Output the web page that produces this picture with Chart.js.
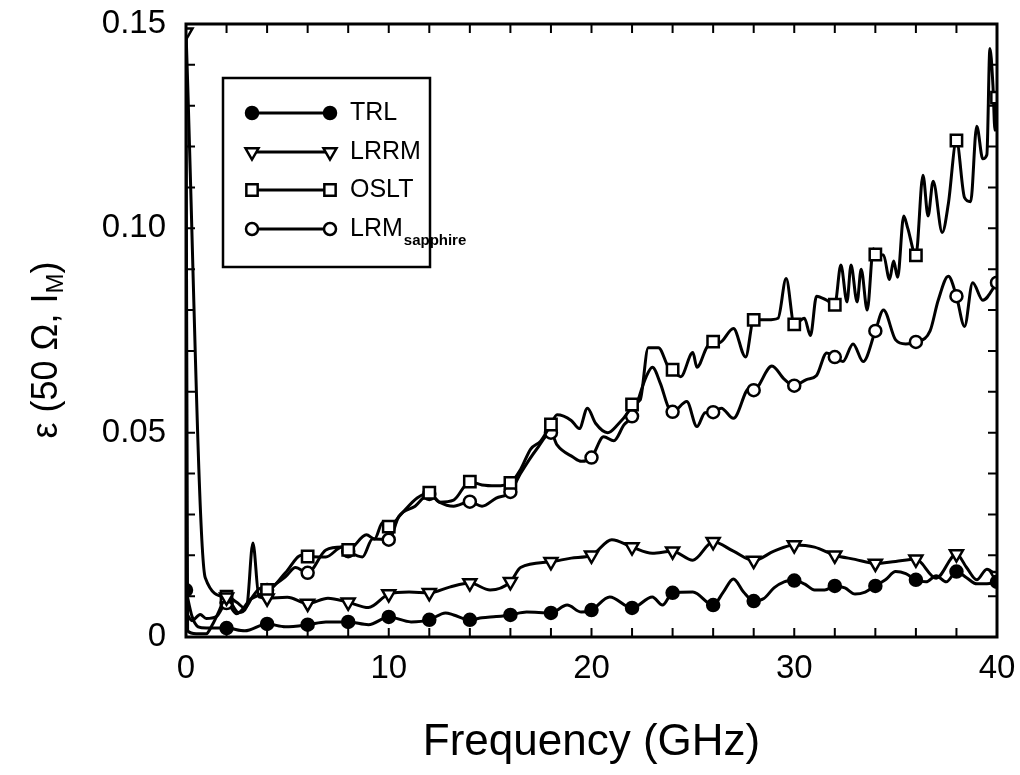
<!DOCTYPE html>
<html><head><meta charset="utf-8">
<script src="https://cdn.jsdelivr.net/npm/chart.js@4/dist/chart.umd.min.js"></script>
<style>html,body{margin:0;padding:0;background:#fff;}</style>
</head><body>
<canvas id="c" width="1020" height="775"></canvas>
<script>
// ---- data ----
const trlX = [0,0.3,0.6,1,2,2.9,4,4.9,6,6.9,8,9,10,11.1,12,12.8,13.2,14,14.6,15.3,16,16.8,18,18.8,19.5,20,20.9,22,23,23.5,24,25,26,26.5,27,27.5,28,28.5,29,29.5,30,30.5,31,31.5,32,32.5,33,33.5,34,34.5,35,35.5,36,36.5,37,37.5,38,38.5,39,39.5,40];
const trlY = [0.0115,0.005,0.0025,0.0022,0.0022,0.0015,0.0032,0.0025,0.003,0.0037,0.0037,0.003,0.0049,0.0037,0.0042,0.0059,0.0054,0.0042,0.0047,0.005,0.0054,0.0061,0.0059,0.0078,0.0061,0.0066,0.0098,0.0071,0.0098,0.0078,0.0108,0.011,0.0078,0.011,0.0142,0.011,0.0088,0.0094,0.012,0.0135,0.0138,0.013,0.0115,0.0115,0.0125,0.012,0.0105,0.011,0.0125,0.014,0.016,0.0155,0.014,0.0135,0.015,0.0135,0.016,0.0145,0.013,0.013,0.0135];

const lrrmX = [0,0.95,2,2.6,3.0,3.3,3.6,4,5,6,7,8,9,10,11,12,13,14,15,16,16.5,18,19,20,21,22,23,24,25,26,27,28,29,30,31,32,33,34,35,36,37,38,38.5,39,39.5,40];
const lrrmY = [0.148,0.0145,0.0097,0.006,0.0075,0.023,0.0098,0.0095,0.0097,0.0082,0.0095,0.0085,0.0072,0.0105,0.011,0.0108,0.0122,0.0132,0.0115,0.0135,0.017,0.0184,0.0193,0.020,0.0238,0.022,0.0205,0.021,0.0188,0.0233,0.021,0.0187,0.021,0.0225,0.022,0.020,0.019,0.018,0.0185,0.019,0.0144,0.0203,0.017,0.014,0.0166,0.015];

const osltX = [0,0.08,0.5,1.0,1.3,1.6,2,2.5,2.9,3.3,3.7,4,4.9,5.7,6,6.9,7.7,8,8.9,9.3,9.7,10,10.6,11.4,12,12.5,13.2,14,14.6,15.3,16,16.5,17,17.5,18,18.3,19,19.4,19.8,20.2,20.8,21.3,21.8,22,22.4,22.8,23.3,23.8,24,24.4,25,25.2,25.7,26,26.3,27,27.6,28,28.7,29.2,29.6,30,30.5,30.8,31.1,31.6,32,32.3,32.6,32.8,33.1,33.3,33.6,33.9,34,34.4,34.7,34.9,35.1,35.4,35.6,36,36.35,36.6,36.85,37.3,37.6,38,38.4,38.7,39,39.3,39.5,39.65,39.8,39.9,40];
const osltY = [0.147,0.0015,0.0008,0.0008,0.003,0.006,0.0099,0.0085,0.0071,0.010,0.012,0.0115,0.0157,0.020,0.0197,0.0196,0.022,0.0213,0.025,0.024,0.028,0.027,0.030,0.034,0.0353,0.033,0.0335,0.038,0.0372,0.037,0.0377,0.041,0.046,0.048,0.052,0.0544,0.053,0.051,0.056,0.0523,0.050,0.052,0.055,0.0569,0.058,0.0708,0.0708,0.066,0.0654,0.0637,0.0696,0.066,0.071,0.0723,0.072,0.0755,0.0685,0.0776,0.0776,0.078,0.0877,0.0765,0.078,0.0738,0.0834,0.0824,0.0813,0.091,0.082,0.091,0.082,0.090,0.080,0.095,0.0936,0.0935,0.0875,0.092,0.088,0.103,0.100,0.0934,0.113,0.103,0.1115,0.099,0.106,0.1215,0.1075,0.1065,0.125,0.117,0.118,0.144,0.135,0.124,0.132];

const lrmX = [0,0.3,0.7,1,1.5,2,2.5,3.2,3.7,4,4.9,5.4,6,6.9,7.7,8,8.7,9.2,10,10.5,11.3,12,12.5,13.2,14,14.6,15.3,16,16.5,17.3,18,18.3,19.1,19.5,20,20.6,21.1,21.6,22,22.7,23,23.4,23.8,24,24.7,25.2,25.6,26,26.4,27,27.8,28,28.9,29.5,30,30.6,31.1,31.6,32,32.4,32.9,33.4,34,34.4,35,35.5,36,36.7,37.1,37.6,38,38.4,38.8,39.3,40];
const lrmY = [0.006,0.004,0.0055,0.0045,0.005,0.0083,0.0057,0.0093,0.0105,0.0115,0.0147,0.017,0.0157,0.0213,0.022,0.021,0.0196,0.024,0.0238,0.0295,0.032,0.035,0.033,0.032,0.0331,0.032,0.034,0.0355,0.040,0.046,0.050,0.047,0.044,0.043,0.0439,0.049,0.048,0.0519,0.054,0.0637,0.066,0.062,0.0561,0.0551,0.0576,0.0515,0.0549,0.055,0.056,0.0535,0.061,0.0604,0.0663,0.0631,0.0615,0.063,0.064,0.0695,0.0685,0.0674,0.0717,0.0674,0.0749,0.080,0.0727,0.0717,0.0722,0.0749,0.0824,0.0883,0.0834,0.076,0.0867,0.0824,0.0867];

const seriesNames = ['TRL','LRRM','OSLT','LRM'];
const legendSub = ['','','','sapphire'];
const xTickLabels = ['0','10','20','30','40'];
const yTickLabels = ['0','0.05','0.10','0.15'];
const xTitle = 'Frequency (GHz)';
const yTitleMain = 'ε (50 Ω, I';
const yTitleSub = 'M';
const yTitleEnd = ')';

// ---- chart ----
const FONT = "'Liberation Sans', Arial, sans-serif";
function pts(xs, ys){ return xs.map((x,i)=>({x:x, y:ys[i]})); }
function markR(r, withZero){
  return c => { const x = c.raw ? c.raw.x : NaN;
    if (Number.isInteger(x) && x % 2 === 0 && (x > 0 || withZero)) return r; return 0; };
}
function ds(label, xs, ys, style, rot, fill, r, zero){
  return { label, data: pts(xs, ys), borderColor:'#000', borderWidth:3,
    pointStyle: style, pointRotation: rot, pointBackgroundColor: fill, pointBorderColor:'#000',
    pointBorderWidth: 2.5, pointRadius: markR(r, zero), pointHoverRadius: 0,
    cubicInterpolationMode:'monotone', fill:false, legR: r };
}
const datasets = [
  ds(seriesNames[0], trlX, trlY, 'circle', 0, '#000', 6, true),
  ds(seriesNames[1], lrrmX, lrrmY, 'triangle', 180, '#fff', 7.5, true),
  ds(seriesNames[2], osltX, osltY, 'rect', 0, '#fff', 8, false),
  ds(seriesNames[3], lrmX, lrmY, 'circle', 0, '#fff', 6, false)
];

const decor = {
  id:'decor',
  afterDraw(chart){
    const c = chart.ctx, a = chart.chartArea, xs = chart.scales.x, ys = chart.scales.y;
    c.save();
    c.strokeStyle = '#000'; c.lineWidth = 3;
    c.strokeRect(a.left, a.top, a.right - a.left, a.bottom - a.top);
    c.lineWidth = 2;
    c.beginPath();
    for (let v = 2; v < 40; v += 2){
      const px = xs.getPixelForValue(v);
      c.moveTo(px, a.bottom); c.lineTo(px, a.bottom - 9);
      c.moveTo(px, a.top); c.lineTo(px, a.top + 9);
    }
    for (let k = 1; k < 15; k++){
      const py = ys.getPixelForValue(k / 100);
      c.moveTo(a.left, py); c.lineTo(a.left + 9, py);
      c.moveTo(a.right, py); c.lineTo(a.right - 9, py);
    }
    c.stroke();

    // axis titles
    c.fillStyle = '#000';
    c.font = '44px ' + FONT; c.textAlign = 'center'; c.textBaseline = 'middle';
    c.fillText(xTitle, (a.left + a.right) / 2, 743);
    c.save();
    c.translate(47, 350);
    c.rotate(-Math.PI / 2);
    const fMain = '36px ' + FONT, fSub = '24px ' + FONT;
    c.font = fMain; const w1 = c.measureText(yTitleMain).width, w3 = c.measureText(yTitleEnd).width;
    c.font = fSub; const w2 = c.measureText(yTitleSub).width;
    let x0 = -(w1 + w2 + w3) / 2;
    c.textAlign = 'left';
    c.font = fMain; c.fillText(yTitleMain, x0, 0);
    c.font = fSub; c.fillText(yTitleSub, x0 + w1, 9);
    c.font = fMain; c.fillText(yTitleEnd, x0 + w1 + w2, 0);
    c.restore();

    // legend
    const L = {x:223, y:78, w:207, h:189};
    c.lineWidth = 2.5; c.strokeRect(L.x, L.y, L.w, L.h);
    const rows = [113, 152, 190, 229];
    chart.data.datasets.forEach((d, i) => {
      const y = rows[i];
      c.lineWidth = 3; c.strokeStyle = '#000';
      c.beginPath(); c.moveTo(252, y); c.lineTo(330, y); c.stroke();
      c.fillStyle = d.pointBackgroundColor; c.lineWidth = d.pointBorderWidth;
      [252, 330].forEach(px => Chart.helpers.drawPoint(c, {pointStyle:d.pointStyle, rotation:d.pointRotation, radius:d.legR, borderWidth:d.pointBorderWidth}, px, y));
      c.fillStyle = '#000'; c.textAlign = 'left'; c.textBaseline = 'middle';
      c.font = '25px ' + FONT; c.fillText(d.label, 350, y);
      if (legendSub[i]) {
        const w = c.measureText(d.label).width;
        c.font = 'bold 15px ' + FONT; c.fillText(legendSub[i], 350 + w + 1, y + 12);
      }
    });
    c.restore();
  }
};

new Chart(document.getElementById('c').getContext('2d'), {
  type: 'line',
  data: { datasets },
  options: {
    responsive: false, animation: false, devicePixelRatio: 1,
    layout: { padding: { top: 24, right: 23, left: 0, bottom: 0 } },
    plugins: { legend: { display: false }, tooltip: { enabled: false } },
    elements: { line: { borderJoinStyle: 'round' } },
    scales: {
      x: { type: 'linear', min: 0, max: 40,
        ticks: { stepSize: 10, color: '#000', font: { size: 33, family: FONT }, padding: 12, maxRotation: 0,
          callback: (v, i) => xTickLabels[i] },
        grid: { display: false, drawTicks: false }, border: { display: false },
        afterFit: s => { s.height = 138; s.paddingLeft = 0; s.paddingRight = 0; } },
      y: { type: 'linear', min: 0, max: 0.15,
        ticks: { stepSize: 0.05, color: '#000', font: { size: 33, family: FONT }, padding: 20,
          callback: (v, i) => yTickLabels[i] },
        grid: { display: false, drawTicks: false }, border: { display: false },
        afterFit: s => { s.width = 186; s.paddingTop = 0; s.paddingBottom = 0; } }
    }
  },
  plugins: [decor]
});
</script>
</body></html>
